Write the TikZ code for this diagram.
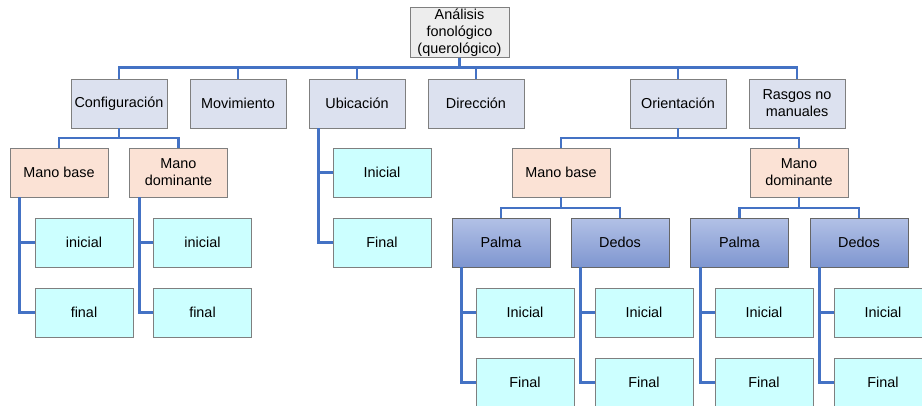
\documentclass[tikz,border=0pt]{standalone}
\usepackage{fontspec}
\setmainfont{Liberation Sans}
\definecolor{lnblue}{HTML}{4472C4}
\definecolor{bordgray}{HTML}{7F7F7F}
\definecolor{rootfill}{HTML}{EDEDED}
\definecolor{lvfill}{HTML}{DCE1EF}
\definecolor{peach}{HTML}{FBE2D5}
\definecolor{leafcyan}{HTML}{CCFFFF}
\definecolor{pTop}{HTML}{B2C1E6}
\definecolor{pBot}{HTML}{7F96D0}
\begin{document}
\begin{tikzpicture}[x=1pt,y=-1pt,
  box/.style={draw=bordgray, line width=0.8pt, minimum width=97pt, minimum height=49pt,
    inner sep=1pt, align=center, font=\fontsize{14.4}{17}\selectfont, text=black},
  rootbox/.style={box, fill=rootfill, minimum width=99pt},
  lvbox/.style={box, fill=lvfill, minimum width=96pt},
  handbox/.style={box, fill=peach, minimum width=98pt},
  leafbox/.style={box, fill=leafcyan, minimum width=98pt},
  partbox/.style={box, top color=pTop, bottom color=pBot, draw=black!60, minimum width=98pt},
  conn/.style={draw=lnblue, line width=2.8pt}
]
\useasboundingbox (0,0) rectangle (922,405);
% root
\node[rootbox] (root) at (459.5,32.5) {Análisis\\fonológico\\(querológico)};
% level 1
\node[lvbox] (conf) at (119,103.5) {Configuración};
\node[lvbox] (mov) at (238,103.5) {Movimiento};
\node[lvbox] (ubi) at (357,103.5) {Ubicación};
\node[lvbox] (dir) at (476,103.5) {Dirección};
\node[lvbox] (ori) at (678,103.5) {Orientación};
\node[lvbox] (ras) at (797,103.5) {Rasgos no\\manuales};
% configuracion children
\node[handbox] (cmb) at (59,172.5) {Mano base};
\node[handbox] (cmd) at (178.5,172.5) {Mano\\dominante};
\node[leafbox] (cmbi) at (84,242.5) {inicial};
\node[leafbox] (cmbf) at (84,312.5) {final};
\node[leafbox] (cmdi) at (202.5,242.5) {inicial};
\node[leafbox] (cmdf) at (202.5,312.5) {final};
% ubicacion children
\node[leafbox] (ubii) at (382,172.5) {Inicial};
\node[leafbox] (ubif) at (382,242.5) {Final};
% orientacion children
\node[handbox] (omb) at (561,172.5) {Mano base};
\node[handbox] (omd) at (799,172.5) {Mano\\dominante};
\node[partbox] (p1) at (501,242.5) {Palma};
\node[partbox] (d1) at (620,242.5) {Dedos};
\node[partbox] (p2) at (739.5,242.5) {Palma};
\node[partbox] (d2) at (859,242.5) {Dedos};
\node[leafbox] (p1i) at (525,312.5) {Inicial};
\node[leafbox] (p1f) at (525,382.5) {Final};
\node[leafbox] (d1i) at (644,312.5) {Inicial};
\node[leafbox] (d1f) at (644,382.5) {Final};
\node[leafbox] (p2i) at (764,312.5) {Inicial};
\node[leafbox] (p2f) at (764,382.5) {Final};
\node[leafbox] (d2i) at (883,312.5) {Inicial};
\node[leafbox] (d2f) at (883,382.5) {Final};
% connectors
\coordinate (b0) at (459.5,67.5);
\foreach \c in {conf,mov,ubi,dir,ori,ras}
  \draw[conn] (root.south) -- (b0) -| (\c.north);
\coordinate (b1) at (119,138);
\foreach \c in {cmb,cmd}
  \draw[conn] (conf.south) -- (b1) -| (\c.north);
\coordinate (b2) at (678,138);
\foreach \c in {omb,omd}
  \draw[conn] (ori.south) -- (b2) -| (\c.north);
\coordinate (b3) at (561,208);
\foreach \c in {p1,d1}
  \draw[conn] (omb.south) -- (b3) -| (\c.north);
\coordinate (b4) at (799,208);
\foreach \c in {p2,d2}
  \draw[conn] (omd.south) -- (b4) -| (\c.north);
% side connectors
\foreach \p/\a/\b in {cmb/cmbi/cmbf, cmd/cmdi/cmdf, ubi/ubii/ubif, p1/p1i/p1f, d1/d1i/d1f, p2/p2i/p2f, d2/d2i/d2f}{
  \draw[conn] ([xshift=10pt]\p.south west) |- (\a.west);
  \draw[conn] ([xshift=10pt]\p.south west) |- (\b.west);
}
\end{tikzpicture}
\end{document}
